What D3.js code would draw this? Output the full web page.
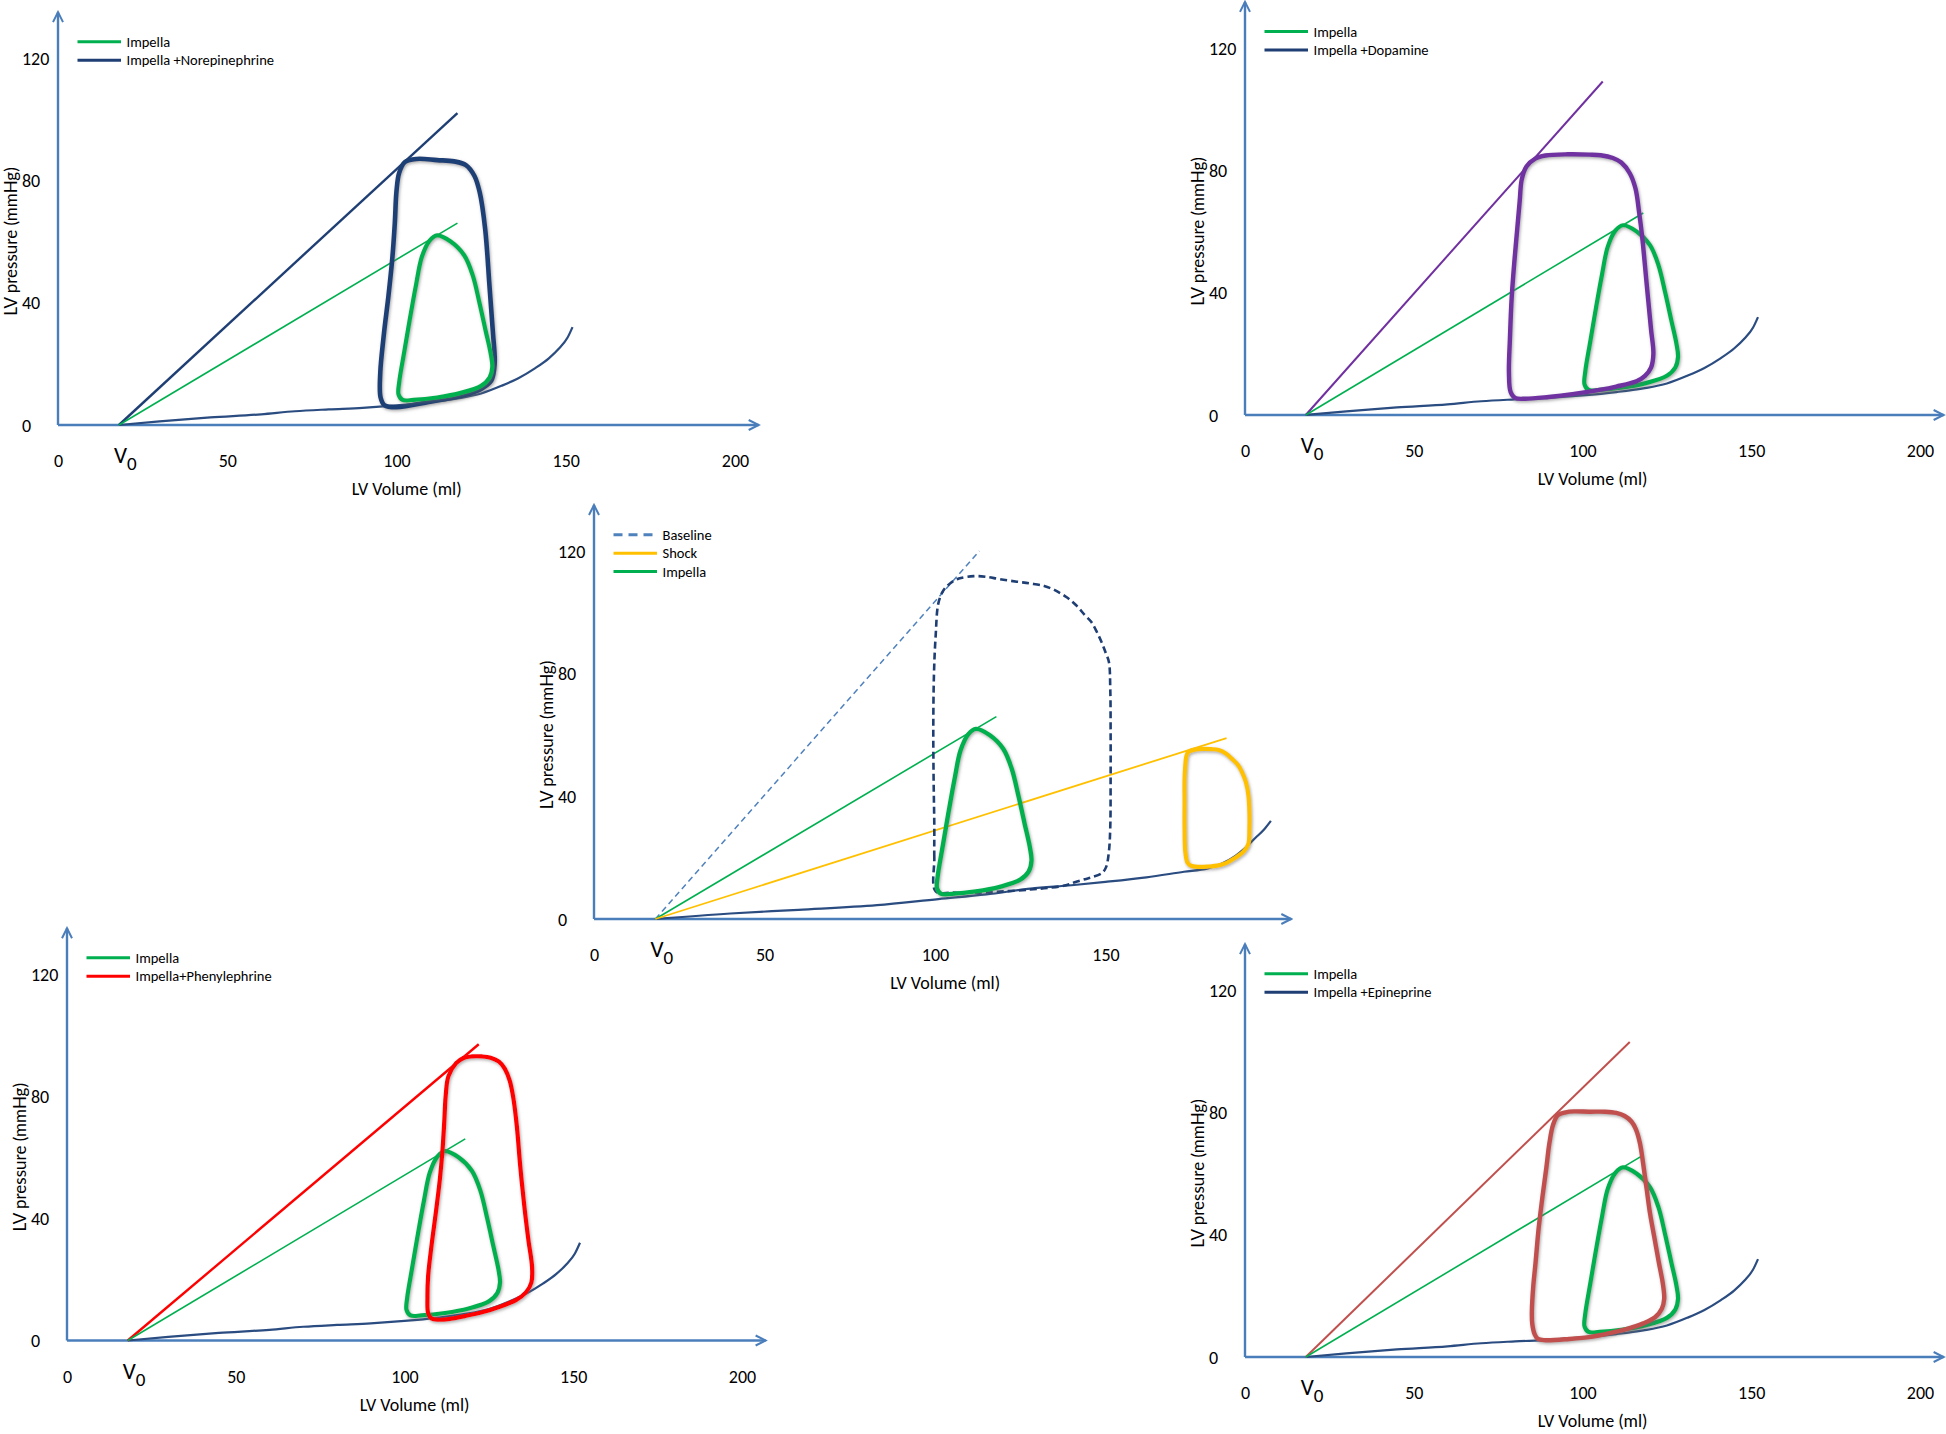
<!DOCTYPE html>
<html><head><meta charset="utf-8">
<script src="https://cdn.jsdelivr.net/npm/d3@7"></script>
<style>
body{margin:0;background:#fff;}
svg{display:block;}
text{font-family:Carlito, Lato, "Open Sans", sans-serif;fill:#000;}
</style></head><body>
<svg id="chart" width="1946" height="1434"></svg>
<script>
// ---------- DATA ----------
const xTicks = [0, 50, 100, 150, 200];
const xTicksCenter = [0, 50, 100, 150];
const yTicks = [0, 40, 80, 120];
const V0 = 18;
const xAxisMax = 207;
const xAxisMaxCenter = 204.5;
const yAxisMax = 135;
const xTitle = "LV Volume (ml)";
const yTitle = "LV pressure (mmHg)";

// End-diastolic pressure-volume relationship [volume ml, pressure mmHg]
const edpvr = [[18,0],[30,1.2],[45,2.5],[60,3.5],[70,4.5],[80,5.1],[90,5.6],[100,6.4],[110,7.5],[118,8.7],[125,10.3],[131,12.8],[136,15.3],[141,18.6],[145,21.8],[148,25],[150.5,28.5],[152,32]];
const edpvrCenter = [[18,0],[40,1.8],[60,3],[83,4.5],[101,6.5],[115,8],[128,9.9],[140,11],[150,12.1],[162,13.6],[173,15.4],[180,16.5],[184,18],[188,20.5],[191,23.2],[194,26.5],[196.5,29.2],[198.5,32]];

// End-systolic pressure-volume relationship lines [start, end]
const impellaEspvr = [[18,0],[118,66]];
const norepinephrineEspvr = [[18,0],[118,102]];
const dopamineEspvr = [[18,0],[106,109]];
const phenylephrineEspvr = [[18,0],[122,97]];
const epinephrineEspvr = [[18,0],[114,103]];
const baselineEspvr = [[18,0],[113,120]];
const shockEspvr = [[18,0],[185.5,59]];

// PV loops
const impellaLoop = [[112,62],[116,60],[120,55.5],[122.5,49],[124.5,40],[126.3,31],[127.8,23.5],[128.3,19],[127.5,15.5],[125,12.8],[119,10.5],[112,9],[105,8.2],[101.8,8.2],[100.6,10],[100.8,14],[102.3,24],[104,35],[105.8,46],[107.5,55],[109.8,60.3]];
const norepinephrineLoop = [[102.5,86],[106,87],[112,86.6],[117,86.2],[120.5,85],[123,81.5],[124.6,76],[126.2,64],[127.5,45],[128.5,30],[129,20],[128,14.5],[125,11.8],[120,9.8],[110,7.6],[100,5.8],[96.5,6.4],[95.3,9],[95.2,17],[96.3,30],[97.6,42],[98.8,55],[99.5,66],[100,76.5],[100.8,82.5]];
const dopamineLoop = [[83.4,81.2],[86,83.8],[89,84.8],[95.7,85.2],[102,85.1],[105.4,84.9],[109,84],[111.5,82.5],[114,79],[115.7,74],[116.8,66],[117.7,58],[119,43],[120.3,28],[121,20],[120.3,15.5],[118.5,12.8],[116,11],[110,9.3],[105,8.2],[97,6.8],[90,5.9],[83,5.3],[80,5.6],[78.7,7.5],[78.2,14],[78.5,25],[79,38],[79.8,50],[80.6,60],[81.4,70],[82,77]];
const phenylephrineLoop = [[115.3,90.8],[117.5,92.5],[120,93],[123,93],[125.5,92.6],[128,91.3],[129.7,89],[131.2,85],[132.3,79],[133.3,70],[134.3,57],[135.5,44],[136.7,33],[137.8,24],[137.6,19],[136,15.8],[133,13.2],[128,11],[123.5,9.4],[118,8],[113,7],[110,6.8],[108,7.2],[107,9],[106.8,14],[107,21],[108,31],[109.3,42],[110.5,53],[111.3,63],[111.8,72],[112.2,80],[113,86.5]];
const epinephrineLoop = [[92.7,79.1],[95,80],[97.5,80.3],[102,80.2],[106.7,80.2],[110,79.8],[112.5,78.8],[114.5,77],[115.8,74.5],[117,70],[118,63],[119,55],[120,47],[121.3,39],[122.6,31],[123.8,24],[124.2,19],[123.5,15.8],[121.5,13],[118,11],[113.5,9.3],[108,7.8],[102.5,6.6],[96,5.9],[89,5.5],[86.8,5.9],[85.8,7.5],[85.1,11],[85,15],[85.4,23],[86.1,31],[87,42],[88.2,53],[89.3,62],[90.2,70],[91.3,76]];
const baselineLoop = [[100.2,9],[99.8,20],[99.8,30],[99.6,45],[99.5,62],[99.7,80],[100.2,92.5],[101,103],[102.5,107.2],[104.5,109.5],[107,111],[111.4,111.8],[115,111.6],[119,110.8],[124,110],[128,109.4],[132,108.6],[135,107.3],[138.5,105],[141.4,102.3],[144,99],[145.8,96.9],[147.5,93.5],[148.8,90.4],[150,87],[151,83.8],[151.4,75],[151.5,62],[151.5,45],[151.4,30],[151,22],[150.2,17],[149,15],[146,13.6],[144,13],[141,12],[138.4,11],[133,10.1],[127.9,9.6],[120,9],[112.9,8.6],[105,8.6]];
const shockLoop = [[174.3,54.5],[176.5,55.3],[178.8,55.5],[181,55.4],[183.2,55.1],[185.3,54],[187,52.3],[188.8,50.3],[190,48],[191.2,44.5],[191.9,40.4],[192.2,35],[192.2,29.5],[191.9,24.5],[190.5,22],[187.7,19.7],[185.5,18.3],[183.2,17.5],[180,17.1],[177.3,17],[175,17.4],[174,18.5],[173.4,22],[173.2,29.5],[173.2,38],[173.2,45.8],[173.4,50],[173.7,53]];

// Legend labels
const legendNE = ["Impella", "Impella +Norepinephrine"];
const legendDopa = ["Impella", "Impella +Dopamine"];
const legendCenter = ["Baseline", "Shock", "Impella"];
const legendPhe = ["Impella", "Impella+Phenylephrine"];
const legendEpi = ["Impella", "Impella +Epineprine"];

// ---------- STYLE / LAYOUT ----------
const C = {
  axis: "#4A7EBB", green: "#00B050", navy: "#1F3F74", edp: "#2A4C80",
  purple: "#7030A0", red: "#FF0000", epi: "#C0504D", yellow: "#FFC000", lightBlue: "#4F81BD"
};

const panels = [
  { x0: 58, x1: 735, xRef: 200, y0: 425, y1: 58, ticks: xTicks, xMax: xAxisMax, edp: edpvr,
    lines: [{d: norepinephrineEspvr, c: C.navy, w: 2.4}, {d: impellaEspvr, c: C.green, w: 1.6}],
    loops: [{d: norepinephrineLoop, c: C.navy, w: 4.6}, {d: impellaLoop, c: C.green, w: 4.2}],
    legend: [{t: legendNE[0], c: C.green}, {t: legendNE[1], c: C.navy}] },
  { x0: 1245, x1: 1920, xRef: 200, y0: 415, y1: 47.8, ticks: xTicks, xMax: xAxisMax, edp: edpvr,
    lines: [{d: dopamineEspvr, c: C.purple, w: 2}, {d: impellaEspvr, c: C.green, w: 1.6}],
    loops: [{d: impellaLoop, c: C.green, w: 4.2}, {d: dopamineLoop, c: C.purple, w: 4.4}],
    legend: [{t: legendDopa[0], c: C.green}, {t: legendDopa[1], c: C.navy}] },
  { x0: 594, x1: 1105.5, xRef: 150, y0: 919, y1: 551, ticks: xTicksCenter, xMax: xAxisMaxCenter, edp: edpvrCenter,
    lines: [{d: baselineEspvr, c: C.lightBlue, w: 1.5, dash: "6,4"}, {d: impellaEspvr, c: C.green, w: 1.6}, {d: shockEspvr, c: C.yellow, w: 1.8}],
    loops: [{d: baselineLoop, c: C.navy, w: 2.6, dash: "7,4", noShadow: true}, {d: shockLoop, c: C.yellow, w: 4.2}, {d: impellaLoop, c: C.green, w: 4.4}],
    legend: [{t: legendCenter[0], c: C.lightBlue, dash: "9,6"}, {t: legendCenter[1], c: C.yellow}, {t: legendCenter[2], c: C.green}] },
  { x0: 67, x1: 742, xRef: 200, y0: 1340.5, y1: 974, ticks: xTicks, xMax: xAxisMax, edp: edpvr,
    lines: [{d: phenylephrineEspvr, c: C.red, w: 2.4}, {d: impellaEspvr, c: C.green, w: 1.6}],
    loops: [{d: impellaLoop, c: C.green, w: 4.2}, {d: phenylephrineLoop, c: C.red, w: 4.2}],
    legend: [{t: legendPhe[0], c: C.green}, {t: legendPhe[1], c: C.red}] },
  { x0: 1245, x1: 1920, xRef: 200, y0: 1357, y1: 990, ticks: xTicks, xMax: xAxisMax, edp: edpvr,
    lines: [{d: epinephrineEspvr, c: C.epi, w: 2}, {d: impellaEspvr, c: C.green, w: 1.6}],
    loops: [{d: impellaLoop, c: C.green, w: 4.2}, {d: epinephrineLoop, c: C.epi, w: 4.4}],
    legend: [{t: legendEpi[0], c: C.green}, {t: legendEpi[1], c: C.navy}] }
];

// ---------- DRAW ----------
const svg = d3.select("#chart");
const defs = svg.append("defs");
defs.append("marker").attr("id", "arrow").attr("viewBox", "0 0 14 14")
  .attr("refX", 12).attr("refY", 7).attr("markerWidth", 14).attr("markerHeight", 14)
  .attr("markerUnits", "userSpaceOnUse").attr("orient", "auto")
  .append("path").attr("d", "M2,2 L12,7 L2,12").attr("fill", "none")
  .attr("stroke", C.axis).attr("stroke-width", 2);
const f = defs.append("filter").attr("id", "shadow")
  .attr("x", "-20%").attr("y", "-20%").attr("width", "140%").attr("height", "140%");
f.append("feDropShadow").attr("dx", 1).attr("dy", 1.5).attr("stdDeviation", 1.8)
  .attr("flood-color", "#666").attr("flood-opacity", 0.55);

panels.forEach(p => {
  const g = svg.append("g");
  const x = d3.scaleLinear().domain([0, p.xRef]).range([p.x0, p.x1]);
  const y = d3.scaleLinear().domain([0, 120]).range([p.y0, p.y1]);
  const line = d3.line().x(d => x(d[0])).y(d => y(d[1]));

  // x axis ticks
  const xa = g.append("g").attr("transform", `translate(0,${y(0)})`)
    .call(d3.axisBottom(x).tickValues(p.ticks).tickSize(0));
  xa.select(".domain").remove();
  xa.selectAll("text").attr("y", 42).attr("dy", 0).attr("font-size", 18)
    .style("font-family", "Carlito, Lato, sans-serif").attr("fill", "#000");
  // y axis ticks
  const ya = g.append("g").attr("transform", `translate(${x(0)},0)`)
    .call(d3.axisLeft(y).tickValues(yTicks).tickSize(0));
  ya.select(".domain").remove();
  ya.selectAll("text").attr("x", -36).attr("text-anchor", "start").attr("dy", "0.35em")
    .attr("font-size", 18).style("font-family", "Carlito, Lato, sans-serif").attr("fill", "#000");

  // axis lines with arrows
  g.append("line").attr("x1", x(0)).attr("x2", x(p.xMax)).attr("y1", y(0)).attr("y2", y(0))
    .attr("stroke", C.axis).attr("stroke-width", 2.4).attr("marker-end", "url(#arrow)");
  g.append("line").attr("x1", x(0)).attr("x2", x(0)).attr("y1", y(0)).attr("y2", y(yAxisMax))
    .attr("stroke", C.axis).attr("stroke-width", 2.4).attr("marker-end", "url(#arrow)");

  // V0 label
  const v = g.append("text").attr("x", x(V0) - 5).attr("y", y(0) + 38).attr("font-size", 23);
  v.append("tspan").text("V");
  v.append("tspan").attr("dy", 7).attr("font-size", 19).text("0");

  // titles
  g.append("text").attr("x", x(103)).attr("y", y(0) + 64).attr("dy", "0.35em")
    .attr("text-anchor", "middle").attr("font-size", 18).text(xTitle);
  g.append("text").attr("transform", `translate(${x(0) - 47},${y(60)}) rotate(-90)`)
    .attr("dy", "0.35em").attr("text-anchor", "middle").attr("font-size", 17)
    .style("font-family", "Lato, sans-serif").text(yTitle);

  // legend
  p.legend.forEach((l, i) => {
    const ly = y(125.3 - i * 6);
    g.append("line").attr("x1", x(0) + 19.5).attr("x2", x(0) + 63).attr("y1", ly).attr("y2", ly)
      .attr("stroke", l.c).attr("stroke-width", 3).attr("stroke-dasharray", l.dash || null);
    g.append("text").attr("x", x(0) + 68.5).attr("y", ly).attr("dy", "0.35em")
      .attr("font-size", 14.5).text(l.t);
  });

  // EDPVR
  g.append("path").datum(p.edp).attr("d", line.curve(d3.curveMonotoneX))
    .attr("fill", "none").attr("stroke", C.edp).attr("stroke-width", 2.2);

  // ESPVR lines
  p.lines.forEach(l => {
    g.append("path").datum(l.d).attr("d", d3.line().x(d => x(d[0])).y(d => y(d[1])))
      .attr("fill", "none").attr("stroke", l.c).attr("stroke-width", l.w)
      .attr("stroke-dasharray", l.dash || null);
  });

  // loops
  const loopLine = d3.line().x(d => x(d[0])).y(d => y(d[1])).curve(d3.curveCatmullRomClosed.alpha(0.5));
  p.loops.forEach(l => {
    g.append("path").datum(l.d).attr("d", loopLine)
      .attr("fill", "none").attr("stroke", l.c).attr("stroke-width", l.w)
      .attr("stroke-linejoin", "round")
      .attr("stroke-dasharray", l.dash || null)
      .attr("filter", l.noShadow ? null : "url(#shadow)");
  });
});
</script>
</body></html>
